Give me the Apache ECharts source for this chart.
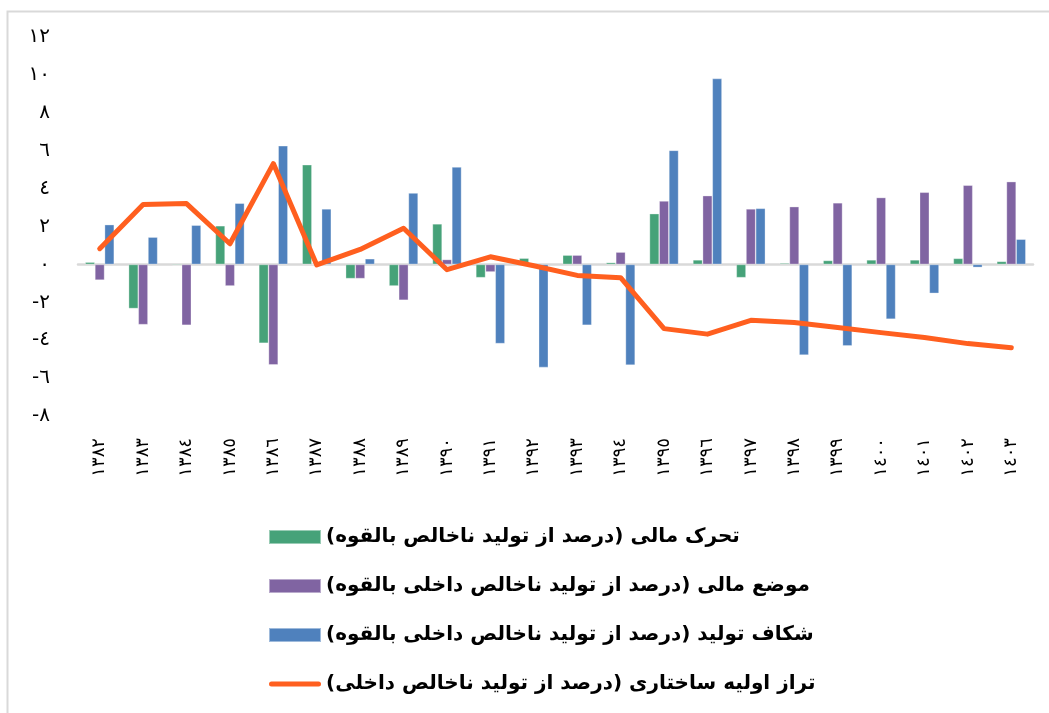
<!DOCTYPE html>
<html>
<head>
<meta charset="utf-8">
<script src="https://cdn.jsdelivr.net/npm/echarts@6/dist/echarts.min.js"></script>
<style>
html,body{margin:0;padding:0;background:#fff;}
#chart{width:1049px;height:713px;}
</style>
</head>
<body>
<div id="chart"></div>
<script>
// Categories (years, Arabic-Indic digits)
const categories = ['١٣٨٢','١٣٨٣','١٣٨٤','١٣٨٥','١٣٨٦','١٣٨٧','١٣٨٨','١٣٨٩','١٣٩٠','١٣٩١','١٣٩٢','١٣٩٣','١٣٩٤','١٣٩٥','١٣٩٦','١٣٩٧','١٣٩٨','١٣٩٩','١٤٠٠','١٤٠١','١٤٠٢','١٤٠٣'];

// Series names
const nameImpulse = 'تحرک مالی (درصد از تولید ناخالص بالقوه)';
const nameStance = 'موضع مالی (درصد از تولید ناخالص داخلی بالقوه)';
const nameGap = 'شکاف تولید (درصد از تولید ناخالص داخلی بالقوه)';
const nameBalance = 'تراز اولیه ساختاری (درصد از تولید ناخالص داخلی)';

// Values
const fiscalImpulse = [0.12,-2.33,-0.05,2.04,-4.16,5.26,-0.75,-1.14,2.14,-0.7,0.33,0.49,0.1,2.68,0.24,-0.7,0.07,0.21,0.24,0.24,0.32,0.16];
const fiscalStance = [-0.83,-3.18,-3.21,-1.14,-5.3,0,-0.75,-1.89,0.26,-0.4,0,0.49,0.65,3.35,3.63,2.93,3.05,3.25,3.53,3.81,4.18,4.37];
const outputGap = [2.1,1.44,2.07,3.23,6.26,2.93,0.3,3.77,5.14,-4.18,-5.44,-3.21,-5.32,6.02,9.81,2.96,-4.79,-4.3,-2.89,-1.53,-0.16,1.33];
const structuralBalance = [0.83,3.16,3.21,1.09,5.32,-0.03,0.79,1.91,-0.28,0.4,-0.07,-0.58,-0.7,-3.39,-3.68,-2.95,-3.07,-3.33,-3.6,-3.86,-4.18,-4.4];

// Y tick labels (value -> label)
const yTickValues = [-8,-6,-4,-2,0,2,4,6,8,10,12];
const yTickLabels = ['-٨','-٦','-٤','-٢','٠','٢','٤','٦','٨','١٠','١٢'];

const chart = echarts.init(document.getElementById('chart'));
const font = 'DejaVu Sans';
const barCommon = { type: 'bar', barWidth: 9.7, barGap: '0%', xAxisIndex: 0 };

// Right-to-left embedding for the Persian legend text
const rtl = n => '\u202B' + n + '\u202C';

chart.setOption({
  animation: false,
  backgroundColor: '#fff',
  graphic: [{
    type: 'rect', left: 5, top: 9, z: -10,
    shape: { width: 1100, height: 800 },
    style: { fill: 'none', stroke: '#d9d9d9', lineWidth: 2 }
  }],
  grid: { left: 78, top: 37, width: 955, height: 379, containLabel: false },
  legend: {
    orient: 'vertical', left: 263, top: 522,
    itemWidth: 52, itemHeight: 14, itemGap: 29,
    data: [
      { name: nameImpulse, icon: 'rect' },
      { name: nameStance, icon: 'rect' },
      { name: nameGap, icon: 'rect' },
      { name: nameBalance, icon: 'path://M2.5,0 L49.5,0 A2.5,2.5 0 0 1 49.5,5 L2.5,5 A2.5,2.5 0 0 1 2.5,0 Z' }
    ],
    formatter: rtl,
    textStyle: { fontFamily: font, fontSize: 20, fontWeight: 'bold', color: '#000', lineHeight: 20 }
  },
  xAxis: [{
    type: 'category', data: categories, position: 'bottom',
    axisLine: { onZero: true, lineStyle: { color: '#d9d9d9', width: 2.5 } },
    axisTick: { show: false }, axisLabel: { show: false }
  }, {
    type: 'category', data: categories, position: 'bottom',
    axisLine: { show: false, onZero: false }, axisTick: { show: false },
    axisLabel: { rotate: 90, margin: 22, fontFamily: font, fontSize: 18, color: '#000' }
  }],
  yAxis: {
    type: 'value', min: -8, max: 12, interval: 2,
    axisLine: { show: false }, axisTick: { show: false }, splitLine: { show: false },
    axisLabel: {
      margin: 28, fontFamily: font, fontSize: 20, color: '#000',
      formatter: v => { const i = yTickValues.indexOf(v); return i >= 0 ? yTickLabels[i] : ''; }
    }
  },
  series: [
    Object.assign({}, barCommon, { name: nameImpulse, data: fiscalImpulse, itemStyle: { color: '#46A279', borderColor: 'rgba(255,255,255,0.45)', borderWidth: 0.7 } }),
    Object.assign({}, barCommon, { name: nameStance, data: fiscalStance, itemStyle: { color: '#8064A2', borderColor: 'rgba(255,255,255,0.45)', borderWidth: 0.7 } }),
    Object.assign({}, barCommon, { name: nameGap, data: outputGap, itemStyle: { color: '#4F81BD', borderColor: 'rgba(255,255,255,0.45)', borderWidth: 0.7 } }),
    {
      type: 'line', name: nameBalance, data: structuralBalance, xAxisIndex: 0,
      symbol: 'none', showSymbol: false, z: 5,
      lineStyle: { color: '#FF5F1F', width: 5, cap: 'round', join: 'round' },
      itemStyle: { color: '#FF5F1F' }
    }
  ]
});
</script>
</body>
</html>
